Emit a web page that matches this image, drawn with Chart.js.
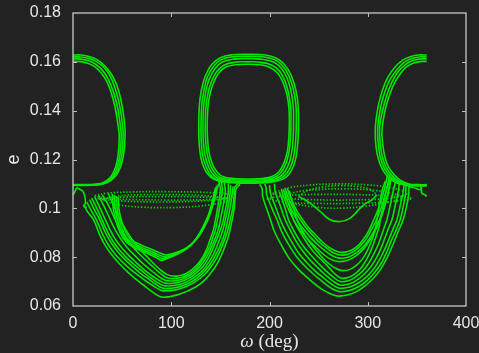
<!DOCTYPE html>
<html>
<head>
<meta charset="utf-8">
<script src="https://cdn.jsdelivr.net/npm/chart.js@4/dist/chart.umd.min.js"></script>
<style>
  html, body { margin: 0; padding: 0; background: #222222; }
  #wrap { width: 479px; height: 353px; }
</style>
</head>
<body>
<div id="wrap"><canvas id="c" width="479" height="353"></canvas></div>
<script>
// Axis ticks
const omegaTicks = [0, 100, 200, 300, 400];
const omegaTickLabels = ['0', '100', '200', '300', '400'];
const eTicks = [0.06, 0.08, 0.10, 0.12, 0.14, 0.16, 0.18];
const eTickLabels = ['0.06', '0.08', '0.1', '0.12', '0.14', '0.16', '0.18'];

// Trajectories in the (omega [deg], e) plane, as [omega, e] pairs.
// Upper islands around omega = 0 / 360
const islandLeft1 = [[0,0.1628],[8,0.1628],[16,0.1622],[24,0.1610],[32,0.1585],[39,0.1550],[45,0.1500],[49,0.1440],[51.5,0.1380],[53,0.1320],[52.5,0.1260],[51,0.1210],[48,0.1165],[43,0.1130],[36,0.1108],[27,0.1097],[15,0.1094],[0,0.1094]];
const islandLeft2 = [[0,0.1620],[8,0.1620],[16,0.1614],[24,0.1601],[32,0.1575],[38,0.1540],[43,0.1490],[47,0.1430],[49.5,0.1370],[51,0.1315],[50.5,0.1255],[49,0.1205],[46,0.1160],[41,0.1127],[34,0.1106],[25,0.1097],[14,0.1095],[0,0.1095]];
const islandLeft3 = [[0,0.1612],[8,0.1611],[16,0.1604],[23,0.1590],[30,0.1565],[36,0.1528],[41,0.1478],[45,0.1420],[47.5,0.1360],[49,0.1305],[48.5,0.1250],[47,0.1200],[44,0.1158],[39,0.1125],[32,0.1105],[23,0.1097],[12,0.1096],[0,0.1096]];
const islandLeft4 = [[0,0.1602],[8,0.1601],[15,0.1594],[22,0.1580],[29,0.1553],[35,0.1515],[39.5,0.1465],[43,0.1410],[45.5,0.1350],[47,0.1300],[46.5,0.1245],[45,0.1195],[42,0.1155],[37,0.1123],[30,0.1104],[21,0.1098],[10,0.1097],[0,0.1097]];
const islandRight1 = [[360,0.1628],[352,0.1628],[344,0.1622],[336,0.1608],[328,0.1580],[321,0.1540],[315,0.1485],[311,0.1425],[308.5,0.1365],[307.6,0.1310],[308.5,0.1250],[311,0.1200],[315,0.1160],[321,0.1127],[329,0.1105],[338,0.1095],[348,0.1092],[360,0.1092]];
const islandRight2 = [[360,0.1620],[352,0.1620],[344,0.1613],[337,0.1598],[330,0.1570],[323,0.1530],[317.5,0.1478],[313.5,0.1420],[311,0.1362],[310,0.1310],[311,0.1252],[313,0.1205],[317,0.1163],[323,0.1130],[330,0.1108],[339,0.1097],[349,0.1094],[360,0.1094]];
const islandRight3 = [[360,0.1612],[352,0.1611],[345,0.1604],[338,0.1588],[331,0.1560],[325,0.1520],[320,0.1470],[316,0.1415],[313,0.1360],[312,0.1310],[313,0.1255],[315,0.1208],[319,0.1166],[325,0.1133],[332,0.1110],[340,0.1098],[350,0.1095],[360,0.1095]];
const islandRight4 = [[360,0.1602],[353,0.1601],[346,0.1594],[339,0.1578],[333,0.1550],[327,0.1512],[322,0.1462],[318,0.1408],[315.5,0.1355],[314.4,0.1305],[315.5,0.1255],[317.5,0.1210],[321,0.1170],[327,0.1137],[334,0.1113],[342,0.1100],[351,0.1097],[360,0.1097]];

// Upper island around omega = 180
const islandMid1 = [[178,0.1103],[160,0.1105],[148,0.1112],[140,0.1128],[134,0.1160],[130,0.1210],[128.2,0.1280],[128,0.1350],[128.6,0.1420],[130.5,0.1480],[134.5,0.1540],[141,0.1588],[150,0.1617],[162,0.1629],[178,0.1631],[194,0.1629],[206,0.1617],[215,0.1590],[222,0.1545],[226.8,0.1485],[229.2,0.1420],[229.6,0.1350],[229,0.1280],[227,0.1210],[223,0.1160],[217,0.1128],[208,0.1112],[196,0.1105],[178,0.1103]];
const islandMid2 = [[178,0.1106],[161,0.1108],[149,0.1115],[141,0.1132],[136,0.1165],[132,0.1215],[130.4,0.1285],[130.3,0.1350],[131,0.1420],[133,0.1478],[136.5,0.1535],[143,0.1581],[151,0.1609],[163,0.1621],[178,0.1623],[193,0.1621],[205,0.1609],[213.5,0.1583],[220,0.1540],[224.6,0.1482],[227,0.1418],[227.3,0.1350],[226.7,0.1282],[224.8,0.1215],[221,0.1166],[215,0.1133],[207,0.1116],[195,0.1108],[178,0.1106]];
const islandMid3 = [[178,0.1110],[162,0.1112],[150,0.1119],[143,0.1137],[138,0.1170],[134.2,0.1220],[132.5,0.1288],[132.3,0.1350],[133,0.1418],[135,0.1475],[138.5,0.1528],[144.5,0.1572],[152,0.1599],[163,0.1611],[178,0.1613],[192,0.1611],[204,0.1599],[212,0.1574],[218,0.1533],[222,0.1478],[224.2,0.1416],[224.5,0.1350],[224,0.1285],[222.2,0.1220],[218.6,0.1172],[213,0.1138],[205.5,0.1120],[194,0.1112],[178,0.1110]];
const islandMid4 = [[178,0.1115],[163,0.1117],[151,0.1124],[145,0.1142],[140,0.1175],[136.4,0.1226],[134.8,0.1292],[134.6,0.1350],[135.3,0.1415],[137.3,0.1470],[141,0.1520],[146.5,0.1561],[154,0.1587],[164,0.1598],[178,0.1600],[191,0.1598],[202,0.1587],[210,0.1563],[215.5,0.1524],[219.4,0.1472],[221.6,0.1413],[221.9,0.1350],[221.4,0.1290],[219.6,0.1226],[216.2,0.1178],[211,0.1144],[204,0.1125],[193,0.1117],[178,0.1115]];
const islandMid5 = [[178,0.1120],[164,0.1122],[153,0.1129],[147,0.1147],[142,0.1180],[138.4,0.1230],[136.8,0.1295],[136.6,0.1350],[137.3,0.1412],[139.3,0.1465],[143,0.1513],[148,0.1552],[155,0.1578],[165,0.1588],[178,0.1590],[190,0.1588],[200,0.1578],[208,0.1555],[213.5,0.1518],[217.6,0.1468],[219.8,0.1410],[220.2,0.1350],[219.7,0.1292],[218,0.1230],[214.5,0.1183],[209.5,0.1150],[202.5,0.1130],[192,0.1122],[178,0.1120]];

// Lower libration around omega = 90: outer family
const bowlLeft1 = [[11,0.1014],[15,0.0985],[21,0.0953],[28,0.0884],[34,0.0840],[41,0.0802],[48,0.0770],[56,0.0738],[64,0.0710],[72,0.0685],[80,0.0660],[89,0.0638],[98,0.0638],[108,0.0648],[117,0.0662],[126,0.0681],[134,0.0706],[140,0.0734],[146,0.0768],[151,0.0808],[155,0.0848],[158.5,0.0890],[161,0.0935],[163.5,0.0985],[165,0.1042],[166,0.1080],[170,0.1098]];
const bowlLeft2 = [[14,0.1025],[18,0.0995],[23.8,0.0953],[30,0.0895],[36,0.0850],[43,0.0812],[50,0.0782],[58,0.0752],[66,0.0726],[74,0.0703],[82,0.0682],[90,0.0664],[99,0.0663],[108,0.0670],[117,0.0683],[125,0.0701],[133,0.0726],[139,0.0753],[145,0.0788],[150,0.0828],[154,0.0868],[157.5,0.0910],[160,0.0953],[162.5,0.1000],[164,0.1050],[164.5,0.1085],[168,0.1100]];
const bowlLeft3 = [[17,0.1035],[21,0.1000],[27.2,0.0953],[33,0.0900],[39,0.0858],[46,0.0820],[53,0.0790],[61,0.0760],[69,0.0733],[77,0.0710],[84,0.0690],[91,0.0674],[100,0.0673],[109,0.0680],[118,0.0694],[126,0.0713],[133,0.0738],[139,0.0767],[144,0.0800],[149,0.0840],[153,0.0880],[155.5,0.0915],[157.5,0.0953],[160,0.1005],[162,0.1058],[163,0.1090]];
const bowlLeft4 = [[19,0.1042],[24,0.1002],[29.6,0.0953],[35,0.0905],[41,0.0863],[48,0.0826],[55,0.0796],[63,0.0767],[71,0.0741],[78,0.0718],[85,0.0699],[92,0.0684],[101,0.0683],[110,0.0690],[118,0.0704],[126,0.0724],[133,0.0750],[138,0.0778],[143,0.0812],[147,0.0850],[151,0.0892],[153.5,0.0925],[155,0.0953],[158,0.1010],[160,0.1062],[160.5,0.1095]];
const bowlLeft5 = [[22,0.1048],[27,0.1005],[33,0.0953],[38,0.0910],[44,0.0868],[51,0.0832],[58,0.0802],[65,0.0775],[72,0.0750],[79,0.0728],[86,0.0709],[93,0.0694],[102,0.0693],[110,0.0700],[118,0.0714],[125,0.0734],[132,0.0761],[137,0.0790],[141,0.0822],[145,0.0860],[149,0.0900],[151.5,0.0930],[153,0.0953],[156,0.1012],[158,0.1066],[158,0.1100]];
const bowlLeft6 = [[26,0.1052],[32,0.1005],[38,0.0953],[43,0.0912],[49,0.0872],[55,0.0840],[62,0.0810],[69,0.0782],[76,0.0757],[83,0.0735],[89,0.0716],[95,0.0704],[103,0.0703],[111,0.0710],[119,0.0726],[126,0.0748],[132,0.0776],[137,0.0808],[141,0.0842],[145,0.0880],[148,0.0915],[150,0.0953],[153,0.1015],[155,0.1070],[154,0.1105]];
const bowlLeft7 = [[30,0.1055],[37,0.1005],[43,0.0953],[48,0.0915],[54,0.0878],[60,0.0846],[67,0.0815],[74,0.0788],[81,0.0762],[87,0.0740],[92,0.0724],[97,0.0714],[105,0.0713],[113,0.0721],[120,0.0737],[126,0.0758],[131,0.0785],[136,0.0818],[140,0.0852],[143,0.0888],[145.5,0.0920],[147,0.0953],[150,0.1018],[152,0.1074],[151,0.1110]];
const bowlLeft8 = [[36,0.1060],[42,0.1005],[48,0.0953],[53,0.0918],[58,0.0885],[64,0.0853],[70,0.0823],[77,0.0795],[83,0.0770],[89,0.0748],[94,0.0733],[99,0.0724],[107,0.0723],[114,0.0731],[121,0.0749],[127,0.0772],[132,0.0800],[136,0.0832],[139,0.0866],[142,0.0900],[144,0.0930],[145,0.0953],[148,0.1020],[150,0.1078],[148,0.1115]];

// Lower libration around omega = 90: inner family
const vLeft1 = [[40,0.1060],[41,0.1000],[44,0.0945],[48,0.0900],[52,0.0872],[57,0.0852],[66,0.0832],[76,0.0815],[84,0.0800],[90,0.0787],[97,0.0797],[106,0.0812],[115,0.0832],[122,0.0858],[128,0.0892],[133,0.0930],[138,0.0975],[142,0.1030],[145,0.1085]];
const vLeft2 = [[42,0.1055],[43,0.0998],[46,0.0942],[50,0.0898],[54,0.0870],[60,0.0852],[68,0.0836],[77,0.0820],[85,0.0806],[91,0.0795],[98,0.0803],[107,0.0818],[116,0.0838],[123,0.0863],[129,0.0896],[134,0.0935],[139,0.0980],[143,0.1035],[146,0.1090]];
const vLeft3 = [[44,0.1050],[45,0.0995],[48,0.0940],[52,0.0898],[56,0.0872],[62,0.0856],[70,0.0840],[79,0.0825],[86,0.0812],[92,0.0803],[99,0.0809],[108,0.0822],[117,0.0842],[124,0.0868],[130,0.0902],[135,0.0942],[140,0.0988],[144,0.1042],[147,0.1095]];
const vLeft4 = [[46,0.1045],[47,0.0992],[50,0.0940],[54,0.0900],[58,0.0876],[64,0.0860],[72,0.0845],[81,0.0830],[88,0.0818],[94,0.0810],[101,0.0814],[110,0.0826],[119,0.0846],[126,0.0874],[132,0.0910],[137,0.0950],[141,0.0995],[145,0.1050],[148,0.1100]];

// Lower libration around omega = 270: outer family
const bowlRight1 = [[190,0.1098],[192.5,0.1080],[193,0.1050],[197,0.1000],[201,0.0953],[205,0.0905],[212,0.0850],[220,0.0795],[229,0.0752],[238,0.0718],[248,0.0684],[258,0.0658],[269,0.0641],[280,0.0646],[290,0.0662],[298,0.0685],[306,0.0715],[313,0.0750],[320,0.0800],[326,0.0855],[331,0.0905],[336,0.0953],[339,0.1000],[341.5,0.1050],[342,0.1088]];
const bowlRight2 = [[195,0.1100],[196.5,0.1085],[197,0.1058],[202,0.1005],[207.6,0.0953],[212,0.0908],[219,0.0855],[227,0.0805],[235,0.0768],[244,0.0733],[253,0.0703],[262,0.0675],[271,0.0659],[281,0.0663],[291,0.0680],[299,0.0703],[306,0.0733],[313,0.0770],[319,0.0818],[324,0.0868],[329,0.0912],[333,0.0953],[336,0.1005],[338.5,0.1058],[339,0.1092]];
const bowlRight3 = [[200,0.1095],[201,0.1062],[206,0.1008],[211,0.0953],[216,0.0910],[223,0.0860],[230,0.0815],[238,0.0778],[246,0.0745],[255,0.0715],[263,0.0690],[271,0.0673],[281,0.0677],[290,0.0693],[298,0.0716],[305,0.0746],[311,0.0783],[317,0.0830],[322,0.0878],[326,0.0918],[329.7,0.0953],[333,0.1010],[336,0.1065],[337,0.1095]];
const bowlRight4 = [[205,0.1100],[206,0.1065],[211,0.1010],[216,0.0953],[221,0.0912],[227,0.0866],[234,0.0824],[241,0.0790],[249,0.0757],[257,0.0727],[264,0.0704],[272,0.0686],[281,0.0690],[289,0.0706],[296,0.0729],[303,0.0760],[309,0.0798],[314,0.0842],[318,0.0885],[321.5,0.0922],[324.6,0.0953],[328,0.1012],[331,0.1068],[332,0.1100]];
const bowlRight5 = [[210,0.1068],[215,0.1012],[219.4,0.0953],[224,0.0915],[230,0.0872],[237,0.0832],[244,0.0800],[251,0.0770],[258,0.0742],[265,0.0718],[272,0.0700],[281,0.0704],[288,0.0720],[295,0.0744],[301,0.0775],[306,0.0812],[311,0.0855],[314.5,0.0895],[317,0.0925],[319.5,0.0953],[323,0.1015],[326,0.1072],[328,0.1105]];
const bowlRight6 = [[215,0.1070],[220,0.1012],[224.5,0.0953],[229,0.0918],[235,0.0878],[241,0.0842],[248,0.0808],[255,0.0780],[261,0.0755],[267,0.0730],[273,0.0714],[281,0.0718],[288,0.0735],[294,0.0760],[299,0.0792],[303.5,0.0830],[307,0.0868],[310,0.0905],[312,0.0930],[312.7,0.0953],[316,0.1018],[319,0.1075],[322,0.1110]];
const bowlRight7 = [[220,0.1072],[224,0.1012],[228,0.0953],[233,0.0912],[239,0.0872],[246,0.0835],[253,0.0802],[260,0.0775],[267,0.0755],[274,0.0745],[282,0.0750],[289,0.0768],[295,0.0795],[300,0.0830],[304,0.0868],[307,0.0905],[309.4,0.0953],[312,0.1020],[315,0.1078],[318,0.1112]];

// Lower libration around omega = 270: inner family
const uRight1 = [[212,0.1075],[216,0.1030],[220,0.0990],[225,0.0950],[231,0.0912],[238,0.0878],[246,0.0845],[254,0.0815],[262,0.0792],[270,0.0782],[279,0.0786],[288,0.0805],[296,0.0835],[303,0.0875],[309,0.0920],[314,0.0968],[318,0.1020],[321,0.1070],[323,0.1120]];
const uRight2 = [[214,0.1078],[218,0.1032],[223,0.0990],[228,0.0952],[234,0.0918],[241,0.0884],[249,0.0852],[257,0.0825],[264,0.0806],[271,0.0796],[280,0.0800],[289,0.0820],[297,0.0850],[304,0.0890],[310,0.0935],[315,0.0983],[319,0.1035],[322,0.1085],[324,0.1125]];
const uRight3 = [[216,0.1080],[220,0.1035],[225,0.0993],[231,0.0955],[237,0.0922],[244,0.0890],[251,0.0860],[259,0.0835],[265,0.0818],[272,0.0809],[280,0.0812],[288,0.0830],[296,0.0862],[302,0.0900],[308,0.0945],[313,0.0995],[317,0.1045],[320,0.1092],[322,0.1130]];
const uRight4 = [[218,0.1082],[222,0.1038],[227,0.0996],[233,0.0958],[239,0.0925],[246,0.0895],[253,0.0866],[260,0.0842],[266,0.0828],[272,0.0820],[280,0.0823],[288,0.0840],[295,0.0870],[301,0.0908],[306,0.0952],[311,0.1000],[315,0.1050],[318,0.1095],[320,0.1135]];
const cupRight = [[229.6,0.1048],[236,0.1035],[241.5,0.1021],[251.7,0.0987],[261.8,0.0953],[272,0.0946],[282.2,0.0960],[292.3,0.1001],[298,0.1020],[304.3,0.1035],[309.4,0.1055]];

// Sparse (dotted) quasi-periodic orbits
const ringLeft1 = [[22,0.1052],[35,0.1062],[60,0.1067],[95,0.1068],[130,0.1066],[155,0.1060],[165,0.1050],[155,0.1040],[130,0.1035],[95,0.1034],[60,0.1036],[35,0.1041],[22,0.1052]];
const ringLeft2 = [[30,0.1035],[45,0.1050],[70,0.1056],[100,0.1056],[130,0.1053],[150,0.1045],[160,0.1035],[150,0.1022],[130,0.1010],[100,0.1003],[70,0.1005],[45,0.1015],[30,0.1035]];
const ringLeft3 = [[25,0.1040],[50,0.1046],[90,0.1048],[130,0.1046],[158,0.1040],[130,0.1030],[90,0.1026],[50,0.1030],[25,0.1040]];
const ringRight1 = [[203,0.1060],[215,0.1080],[240,0.1095],[270,0.1100],[300,0.1096],[325,0.1083],[340,0.1062],[325,0.1042],[300,0.1036],[270,0.1034],[240,0.1036],[215,0.1043],[203,0.1060]];
const ringRight2 = [[212,0.1045],[225,0.1065],[250,0.1077],[275,0.1080],[300,0.1076],[322,0.1064],[335,0.1045],[322,0.1026],[300,0.1010],[275,0.1001],[250,0.1004],[225,0.1020],[212,0.1045]];
const ringRight3 = [[197,0.1040],[215,0.1052],[250,0.1057],[290,0.1056],[325,0.1050],[345,0.1040],[325,0.1027],[290,0.1021],[250,0.1020],[215,0.1025],[197,0.1040]];
const ringRight4 = [[229.6,0.1048],[238,0.1072],[255,0.1088],[272,0.1093],[290,0.1089],[302,0.1078],[309.4,0.1055]];

// Irregular pieces near the separatrix
const edgeLeft = [[0,0.1055],[2,0.1068],[4,0.1083],[7,0.1078],[10,0.1070],[12,0.1050],[12.6,0.1021],[11,0.1010],[14,0.1003]];
const edgeRight = [[341,0.1090],[347,0.1084],[353.4,0.1076],[354.5,0.1088],[355,0.1062],[357,0.1058],[358.5,0.1055],[360,0.1048]];

const solidCurves = [
  islandLeft1, islandLeft2, islandLeft3, islandLeft4,
  islandRight1, islandRight2, islandRight3, islandRight4,
  islandMid1, islandMid2, islandMid3, islandMid4, islandMid5,
  bowlLeft1, bowlLeft2, bowlLeft3, bowlLeft4, bowlLeft5, bowlLeft6, bowlLeft7, bowlLeft8,
  vLeft1, vLeft2, vLeft3, vLeft4,
  bowlRight1, bowlRight2, bowlRight3, bowlRight4, bowlRight5, bowlRight6, bowlRight7,
  uRight1, uRight2, uRight3, uRight4, cupRight,
  edgeLeft, edgeRight
];
const dottedCurves = [ringLeft1, ringLeft2, ringLeft3, ringRight1, ringRight2, ringRight3, ringRight4];

const GREEN = '#00e800';

const toXY = pts => pts.map(p => ({ x: p[0], y: p[1] }));

const datasets = [];
dottedCurves.forEach(c => datasets.push({
  data: toXY(c), showLine: true, borderColor: 'rgba(0,220,0,0.95)', borderWidth: 1.7,
  borderDash: [1.4, 1.8], pointRadius: 0, tension: 0.4, fill: false
}));
solidCurves.forEach(c => datasets.push({
  data: toXY(c), showLine: true, borderColor: GREEN, borderWidth: 1.6,
  pointRadius: 0, tension: 0.4, fill: false
}));

// Dark page background
const background = {
  id: 'background',
  beforeDraw(chart) {
    const { ctx, width, height } = chart;
    ctx.save();
    ctx.fillStyle = '#222222';
    ctx.fillRect(0, 0, width, height);
    ctx.restore();
  }
};

// Closed frame with inward ticks, plus the axis titles
const frame = {
  id: 'frame',
  afterDraw(chart) {
    const { ctx, chartArea: a, scales } = chart;
    const xs = scales.x, ys = scales.y;
    ctx.save();
    ctx.strokeStyle = '#d8d8d8';
    ctx.lineWidth = 1.2;
    ctx.strokeRect(a.left, a.top, a.right - a.left, a.bottom - a.top);
    ctx.strokeStyle = '#bdbdbd';
    ctx.lineWidth = 1;
    const tl = 4;
    ctx.beginPath();
    omegaTicks.slice(1, -1).forEach(v => {
      const px = Math.round(xs.getPixelForValue(v)) + 0.5;
      ctx.moveTo(px, a.bottom); ctx.lineTo(px, a.bottom - tl);
      ctx.moveTo(px, a.top); ctx.lineTo(px, a.top + tl);
    });
    eTicks.slice(1, -1).forEach(v => {
      const py = Math.round(ys.getPixelForValue(v)) + 0.5;
      ctx.moveTo(a.left, py); ctx.lineTo(a.left + tl, py);
      ctx.moveTo(a.right, py); ctx.lineTo(a.right - tl, py);
    });
    ctx.stroke();

    // x title: italic omega followed by upright "(deg)"
    ctx.fillStyle = '#e6e6e6';
    ctx.textBaseline = 'alphabetic';
    const fItal = 'italic 19px "Liberation Serif", serif';
    const fReg = '19px "Liberation Serif", serif';
    ctx.font = fItal; const wOm = ctx.measureText('ω').width;
    ctx.font = fReg; const wRest = ctx.measureText(' (deg)').width;
    const cx = (a.left + a.right) / 2;
    let x0 = cx - (wOm + wRest) / 2;
    ctx.font = fItal; ctx.textAlign = 'left'; ctx.fillText('ω', x0, 347);
    ctx.font = fReg; ctx.fillText(' (deg)', x0 + wOm, 347);

    // y title
    ctx.translate(19, (a.top + a.bottom) / 2);
    ctx.rotate(-Math.PI / 2);
    ctx.textAlign = 'center';
    ctx.font = '18px "Liberation Sans", Arial, sans-serif';
    ctx.fillText('e', 0, 0);
    ctx.restore();
  }
};

new Chart(document.getElementById('c'), {
  type: 'scatter',
  data: { datasets },
  options: {
    responsive: false,
    animation: false,
    events: [],
    layout: { padding: { top: 13, right: 13, left: 0, bottom: 0 } },
    plugins: { legend: { display: false }, tooltip: { enabled: false } },
    scales: {
      x: {
        type: 'linear', min: 0, max: 400,
        afterFit(s) { s.height = 47; s.paddingLeft = 0; s.paddingRight = 0; },
        afterBuildTicks(s) { s.ticks = omegaTicks.map(v => ({ value: v })); },
        grid: { display: false, drawTicks: false }, border: { display: false },
        ticks: {
          color: '#e6e6e6', padding: 8,
          font: { family: '"Liberation Sans", Arial, sans-serif', size: 16 },
          callback: (v, i) => omegaTickLabels[i]
        }
      },
      y: {
        type: 'linear', min: 0.06, max: 0.18,
        afterFit(s) { s.width = 73; s.paddingTop = 0; s.paddingBottom = 0; },
        afterBuildTicks(s) { s.ticks = eTicks.map(v => ({ value: v })); },
        grid: { display: false, drawTicks: false }, border: { display: false },
        ticks: {
          color: '#e6e6e6', padding: 12,
          font: { family: '"Liberation Sans", Arial, sans-serif', size: 16 },
          callback: (v, i) => eTickLabels[i]
        }
      }
    }
  },
  plugins: [background, frame]
});
</script>
</body>
</html>
